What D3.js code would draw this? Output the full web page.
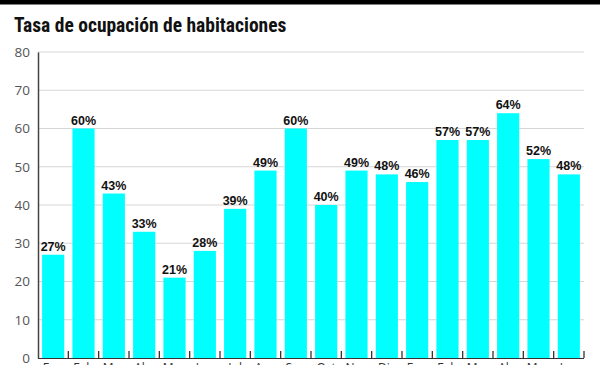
<!DOCTYPE html>
<html><head><meta charset="utf-8">
<script src="https://cdn.jsdelivr.net/npm/d3@7"></script>
<style>body{margin:0;background:#fff;}svg{display:block;}</style>
</head><body>
<script>
const categories = ["Ene","Feb","Mar","Abr","May","Jun","Jul","Ago","Sep","Oct","Nov","Dic","Ene","Feb","Mar","Abr","May","Jun"];
const values = [27,60,43,33,21,28,39,49,60,40,49,48,46,57,57,64,52,48];
const yTicks = [0,10,20,30,40,50,60,70,80];
const title = "Tasa de ocupación de habitaciones";

const W = 600, H = 365;
const svg = d3.select("body").append("svg").attr("width", W).attr("height", H);
const mLeft = 38, mRight = 584, mTop = 52, mBottom = 358;

svg.append("rect").attr("x",0).attr("y",0).attr("width",W).attr("height",4.5).attr("fill","#000");

svg.append("text").attr("x",14).attr("y",32).text(title)
  .attr("font-family","'Liberation Sans Narrow','Roboto Condensed',Arial,sans-serif")
  .attr("font-weight","bold").attr("font-size",19.5).attr("fill","#111");

const x = d3.scaleBand().domain(d3.range(categories.length)).range([mLeft,mRight]).paddingInner(0.27).paddingOuter(0.135);
const y = d3.scaleLinear().domain([0,80]).range([mBottom,mTop]);

// gridlines
svg.append("g").selectAll("line").data(yTicks.filter(d=>d>0)).join("line")
  .attr("x1",mLeft).attr("x2",mRight).attr("y1",d=>y(d)).attr("y2",d=>y(d))
  .attr("stroke","#d6d6d6").attr("stroke-width",1);

// y axis
const ya = svg.append("g").attr("transform",`translate(${mLeft},0)`)
  .call(d3.axisLeft(y).tickValues(yTicks).tickSize(0).tickPadding(8));
ya.select(".domain").attr("stroke","#444").attr("stroke-width",1.5);
ya.selectAll("text").attr("font-family","'Open Sans',Arial,sans-serif").attr("font-size",13.5).attr("fill","#555");

// bars
svg.append("g").selectAll("rect").data(values).join("rect")
  .attr("x",(d,i)=>x(i)).attr("width",x.bandwidth())
  .attr("y",d=>y(d)).attr("height",d=>mBottom-y(d)).attr("fill","#00FFFF");

// labels
svg.append("g").selectAll("text").data(values).join("text")
  .attr("x",(d,i)=>x(i)+x.bandwidth()/2).attr("y",d=>y(d)-4)
  .attr("text-anchor","middle").text(d=>d+"%")
  .attr("font-family","'Liberation Sans',Arial,sans-serif").attr("font-weight","bold")
  .attr("font-size",12.5).attr("fill","#111");

// x axis
const boundaries = d3.range(1, categories.length+1).map(i => mLeft + i*(mRight-mLeft)/categories.length);
const xa = svg.append("g");
xa.append("line").attr("x1",mLeft).attr("x2",mRight).attr("y1",mBottom+0.5).attr("y2",mBottom+0.5).attr("stroke","#333").attr("stroke-width",1.2);
xa.selectAll("line.tk").data(boundaries).join("line").attr("class","tk")
  .attr("x1",d=>d).attr("x2",d=>d).attr("y1",mBottom).attr("y2",mBottom-7)
  .attr("stroke","#333").attr("stroke-width",1.3);
xa.selectAll("text").data(categories).join("text")
  .attr("x",(d,i)=>x(i)+x.bandwidth()/2).attr("y",mBottom+13.5)
  .attr("text-anchor","middle").text(d=>d)
  .attr("font-family","'Open Sans',Arial,sans-serif").attr("font-size",12).attr("fill","#333");
</script>
</body></html>
